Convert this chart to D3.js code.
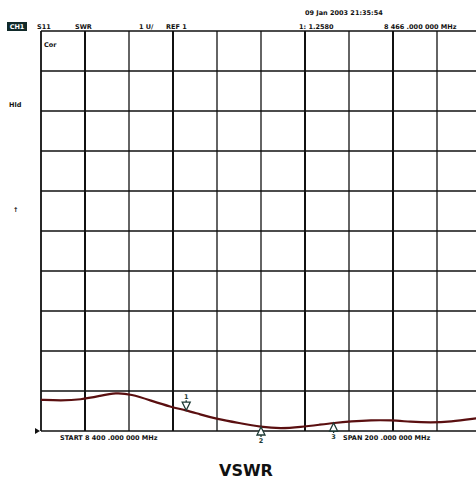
<!DOCTYPE html>
<html>
<head>
<meta charset="utf-8">
<script src="https://cdn.jsdelivr.net/npm/d3@7"></script>
<style>
  body { margin: 0; background: #fff; }
  svg { display: block; }
  .ann { font-family: "DejaVu Sans", sans-serif; font-weight: bold; font-size: 6.5px; fill: #111; }
</style>
</head>
<body>
<svg width="476" height="479"></svg>
<script>
'use strict';

// frequency (MHz) and SWR
const freqs = [8400, 8409, 8418, 8427, 8434, 8441, 8450, 8459, 8466, 8472, 8480, 8490, 8500,
  8509, 8518, 8527, 8533, 8541, 8550, 8559, 8568, 8577, 8586, 8598];
const swr = [1.39, 1.38, 1.39, 1.44, 1.48, 1.46, 1.38, 1.30, 1.26, 1.21, 1.15, 1.10, 1.05,
  1.03, 1.05, 1.08, 1.10, 1.12, 1.135, 1.135, 1.115, 1.105, 1.115, 1.16];
const markers = [{n: "1", f: 8466, up: false}, {n: "2", f: 8500, up: true}, {n: "3", f: 8533, up: true}];

let svg = d3.select("svg");

let x = d3.scaleLinear().domain([8400, 8600]).range([41, 481]);
let y = d3.scaleLinear().domain([1, 6]).range([431, 31]);

let grid = svg.append("g")
  .attr("stroke", "#111")
  .attr("stroke-width", 1.3);

grid.selectAll("line.v")
  .data(x.ticks(10))
  .join("line")
    .attr("class", "v")
    .attr("x1", d => x(d)).attr("x2", d => x(d))
    .attr("y1", y(6)).attr("y2", y(1))
    .attr("stroke-width", (d, i) => i === 0 ? 1.8 : ([1, 3, 6, 8].includes(i) ? 2 : 1.3));

grid.selectAll("line.h")
  .data(y.ticks(10))
  .join("line")
    .attr("class", "h")
    .attr("y1", d => y(d)).attr("y2", d => y(d))
    .attr("x1", x(8400)).attr("x2", x(8600));

let pts = freqs.map((f, i) => [f, swr[i]]);

svg.append("path")
  .datum(pts)
  .attr("fill", "none")
  .attr("stroke", "#5a0f10")
  .attr("stroke-width", 2.2)
  .attr("d", d3.line().x(d => x(d[0])).y(d => y(d[1])).curve(d3.curveBasis));

let interp = f => {
  let i = d3.bisectLeft(freqs, f);
  if (i <= 0) return swr[0];
  let t = (f - freqs[i - 1]) / (freqs[i] - freqs[i - 1]);
  return swr[i - 1] + t * (swr[i] - swr[i - 1]);
};

let mk = svg.append("g").selectAll("g")
  .data(markers)
  .join("g")
    .attr("transform", d => `translate(${x(d.f)},${y(interp(d.f))})`);

mk.append("path")
  .attr("d", d => d.up ? "M0,0 L-4,8 L4,8 Z M0,8 V10" : "M0,0 L-4,-8 L4,-8 Z M0,-8 V-10")
  .attr("fill", "#fff")
  .attr("stroke", "#1d3a35")
  .attr("stroke-width", 1.3);

mk.append("text")
  .attr("class", "ann")
  .attr("text-anchor", "middle")
  .attr("y", d => d.up ? 16 : -11)
  .style("fill", "#1d3a35")
  .text(d => d.n);

// reference position marker
svg.append("path")
  .attr("d", `M35,${y(1) - 3} L40,${y(1)} L35,${y(1) + 3} Z`)
  .attr("fill", "#111");

// annotation texts
svg.append("rect").attr("x", 7).attr("y", 22).attr("width", 20).attr("height", 9).attr("fill", "#112a2a");
svg.append("text").attr("class", "ann").attr("x", 17).attr("y", 29).attr("text-anchor", "middle")
  .style("fill", "#fff").text("CH1");

const topTexts = [
  [37, 29, "S11"], [75, 29, "SWR"], [139, 29, "1 U/"], [166, 29, "REF 1"],
  [299, 29, "1: 1.2580"], [384, 29, "8 466 .000 000 MHz"],
  [305, 15, "09 Jan 2003 21:35:54"], [44, 47, "Cor"], [9, 107, "Hld"], [13, 212, "↑"],
  [60, 440, "START 8 400 .000 000 MHz"], [343, 440, "SPAN 200 .000 000 MHz"]
];

svg.append("g").selectAll("text")
  .data(topTexts)
  .join("text")
    .attr("class", "ann")
    .attr("x", d => d[0]).attr("y", d => d[1])
    .text(d => d[2]);

svg.append("text")
  .attr("x", 246).attr("y", 476)
  .attr("text-anchor", "middle")
  .attr("font-family", "Verdana, 'DejaVu Sans', sans-serif")
  .attr("font-weight", "bold")
  .attr("font-size", 16)
  .attr("fill", "#111")
  .text("VSWR");
</script>
</body>
</html>
